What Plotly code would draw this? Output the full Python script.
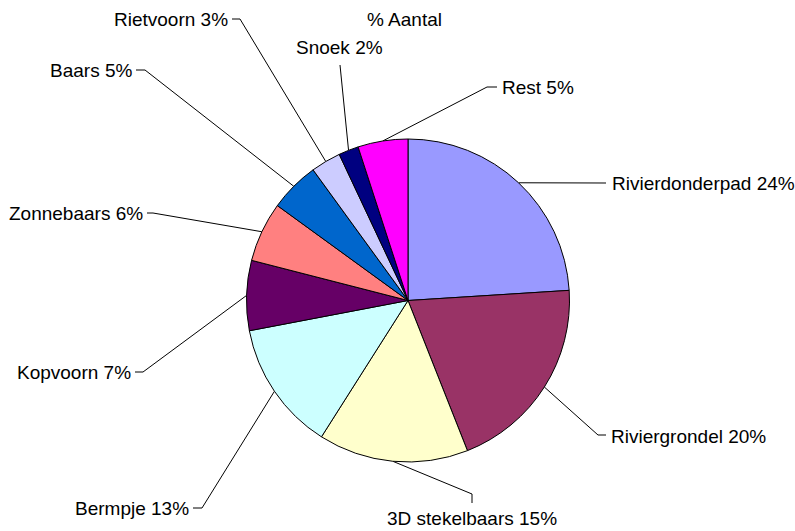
import math
import plotly.graph_objects as go

# Species share of the catch (% of count), clockwise from 12 o'clock
species = ["Rivierdonderpad", "Riviergrondel", "3D stekelbaars", "Bermpje",
           "Kopvoorn", "Zonnebaars", "Baars", "Rietvoorn", "Snoek", "Rest"]
percent = [24, 20, 15, 13, 7, 6, 5, 3, 2, 5]
colors = ["#9999FF", "#993366", "#FFFFCC", "#CCFFFF", "#660066",
          "#FF8080", "#0066CC", "#CCCCFF", "#000080", "#FF00FF"]
title_text = "% Aantal"

W, H = 795, 531
CX, CY, R = 408.0, 300.5, 161.5
FONT = dict(family="Liberation Sans, Arial, sans-serif", size=19, color="black")

# Where each label sits and how its leader line bends (pixel space)
label_layout = {
    "Rivierdonderpad": dict(path=[(606, 183)], pos=(610, 183), anchor="left"),
    "Riviergrondel": dict(path=[(598, 435), (606, 435)], pos=(609, 436), anchor="left"),
    "3D stekelbaars": dict(path=[(472, 494), (472, 503)], pos=(472, 518), anchor="center"),
    "Bermpje": dict(path=[(202, 508), (193, 508)], pos=(191, 508), anchor="right"),
    "Kopvoorn": dict(path=[(143, 372), (135, 372)], pos=(133, 372), anchor="right"),
    "Zonnebaars": dict(path=[(153, 213), (147, 213)], pos=(145, 213), anchor="right"),
    "Baars": dict(path=[(145, 70), (136, 70)], pos=(134, 70), anchor="right"),
    "Rietvoorn": dict(path=[(240, 19), (232, 19)], pos=(230, 19), anchor="right"),
    "Snoek": dict(path=[(340, 65)], pos=(339, 47), anchor="center"),
    "Rest": dict(path=[(487, 87), (497, 87)], pos=(500, 87), anchor="left"),
}

fig = go.Figure()

fig.add_trace(go.Pie(
    labels=species, values=percent, sort=False, direction="clockwise",
    rotation=0, marker=dict(colors=colors, line=dict(color="black", width=1)),
    textinfo="none", hoverinfo="label+percent", showlegend=False,
    domain=dict(x=[(CX - R) / W, (CX + R) / W],
                y=[(H - CY - R) / H, (H - CY + R) / H]),
))

# Leader lines from the middle of each slice's rim out to its label
total = sum(percent)
cum = 0.0
annotations = []
for name, val in zip(species, percent):
    mid = (cum + val / 2) / total * 2 * math.pi
    cum += val
    x0 = CX + R * math.sin(mid)
    y0 = CY - R * math.cos(mid)
    cfg = label_layout[name]
    xs = [x0] + [p[0] for p in cfg["path"]]
    ys = [y0] + [p[1] for p in cfg["path"]]
    fig.add_trace(go.Scatter(x=xs, y=ys, mode="lines",
                             line=dict(color="black", width=1),
                             hoverinfo="skip", showlegend=False))
    annotations.append(dict(x=cfg["pos"][0], y=cfg["pos"][1], xref="x", yref="y",
                            text=f"{name} {round(val / total * 100)}%",
                            showarrow=False, xanchor=cfg["anchor"], yanchor="middle",
                            font=FONT))

annotations.append(dict(x=404, y=19, xref="x", yref="y", text=title_text,
                        showarrow=False, xanchor="center", yanchor="middle", font=FONT))

fig.update_layout(
    width=W, height=H, margin=dict(l=0, r=0, t=0, b=0),
    paper_bgcolor="white", plot_bgcolor="rgba(0,0,0,0)",
    xaxis=dict(range=[0, W], visible=False, fixedrange=True),
    yaxis=dict(range=[H, 0], visible=False, fixedrange=True),
    annotations=annotations,
)

fig.write_html("out.html")
